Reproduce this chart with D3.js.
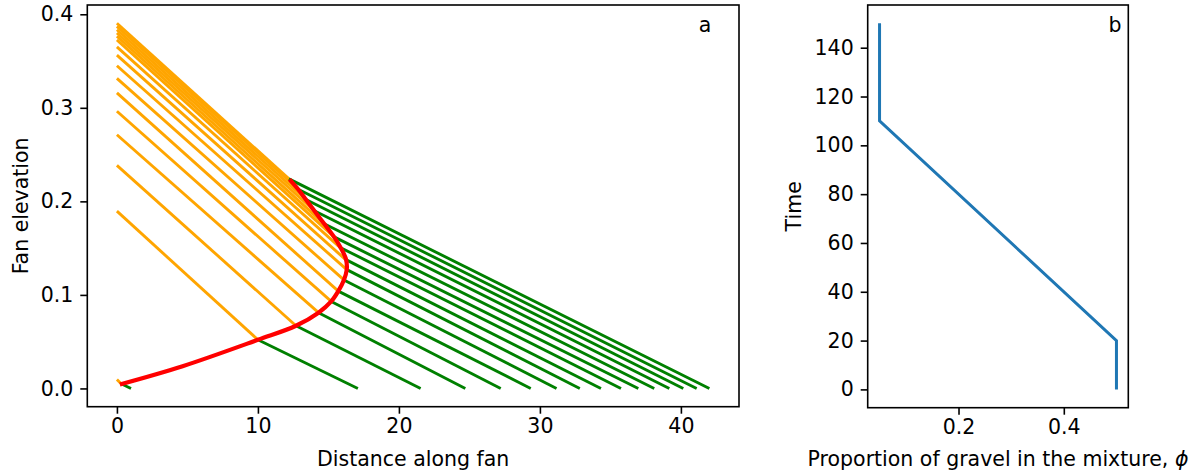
<!DOCTYPE html>
<html>
<head>
<meta charset="utf-8">
<script src="https://cdn.jsdelivr.net/npm/d3@7"></script>
<style>
  html, body { margin: 0; padding: 0; background: #fff; }
  svg { display: block; }
  text { font-family: "DejaVu Sans", sans-serif; fill: #000; }
</style>
</head>
<body>
<svg id="chart" width="1199" height="474"></svg>
<script>
// ---------------- Data (panel a) ----------------
// One profile every 10 time units (t = 0 ... 150)
const apexElev  = [0.0095, 0.1895, 0.2385, 0.2712, 0.2963, 0.3159, 0.3315, 0.345, 0.3563, 0.3652, 0.3727, 0.3765, 0.380, 0.3835, 0.387, 0.3904];
const transX    = [0.3, 10.0, 12.7, 14.3, 15.2, 15.7, 16.1, 16.3, 16.2, 15.8, 15.4, 14.7, 14.0, 13.4, 12.85, 12.2];
const transElev = [0.005, 0.052, 0.067, 0.081, 0.093, 0.104, 0.116, 0.127, 0.138, 0.151, 0.162, 0.176, 0.19, 0.202, 0.213, 0.224];
const toeX      = [1.0, 17.09, 21.54, 24.71, 27.22, 29.35, 31.18, 32.83, 34.33, 35.75, 36.98, 38.11, 39.18, 40.17, 41.12, 42.02];
// gravel-sand transition trajectory (red)
const redX = [0.21, 4.66, 10.0, 12.7, 14.3, 15.2, 15.7, 16.1, 16.3, 16.25, 15.85, 15.4, 14.7, 14.0, 13.4, 12.85, 12.24];
const redY = [0.0043, 0.0238, 0.052, 0.067, 0.081, 0.093, 0.104, 0.116, 0.127, 0.138, 0.151, 0.162, 0.176, 0.19, 0.202, 0.213, 0.2236];
const xTicksA = [0, 10, 20, 30, 40];
const yTicksA = [0.0, 0.1, 0.2, 0.3, 0.4];

// ---------------- Data (panel b) ----------------
const phiVals  = [0.5, 0.5, 0.05, 0.05];
const timeVals = [0, 20, 110, 150];
const xTicksB = [0.2, 0.4];
const yTicksB = [0, 20, 40, 60, 80, 100, 120, 140];

// ---------------- Layout ----------------
const FS = 20.5;
const svg = d3.select("#chart");

function padDomain(lo, hi) { const m = (hi - lo) * 0.05; return [lo - m, hi + m]; }

const A = { left: 87.3, right: 739, top: 5, bottom: 406.7 };
const B = { left: 867.7, right: 1128.3, top: 5, bottom: 407.7 };

const xA = d3.scaleLinear().domain(padDomain(0, d3.max(toeX))).range([A.left, A.right]);
const yA = d3.scaleLinear().domain(padDomain(0, d3.max(apexElev))).range([A.bottom, A.top]);
const xB = d3.scaleLinear().domain(padDomain(d3.min(phiVals), d3.max(phiVals))).range([B.left, B.right]);
const yB = d3.scaleLinear().domain(padDomain(d3.min(timeVals), d3.max(timeVals))).range([B.bottom, B.top]);

function styleAxis(g) {
  g.select(".domain").remove();
  g.selectAll(".tick line").attr("stroke", "#000").attr("stroke-width", 1.6);
  g.selectAll(".tick text").attr("font-size", FS).attr("font-family", "DejaVu Sans").attr("fill", "#000");
}

const LW = 2.9;

// ---------- Panel a ----------
const gA = svg.append("g");
svg.append("clipPath").attr("id", "clipA").append("rect")
  .attr("x", A.left).attr("y", A.top).attr("width", A.right - A.left).attr("height", A.bottom - A.top);
const plotA = gA.append("g").attr("clip-path", "url(#clipA)");
const line = d3.line();

apexElev.forEach((h, i) => {
  plotA.append("path")
    .attr("d", line([[xA(0), yA(h)], [xA(transX[i]), yA(transElev[i])]]))
    .attr("fill", "none").attr("stroke", "orange").attr("stroke-width", LW).attr("stroke-linecap", "butt");
  plotA.append("path")
    .attr("d", line([[xA(transX[i]), yA(transElev[i])], [xA(toeX[i]), yA(0)]]))
    .attr("fill", "none").attr("stroke", "green").attr("stroke-width", LW).attr("stroke-linecap", "butt");
});

plotA.append("path")
  .attr("d", d3.line().curve(d3.curveCatmullRom.alpha(0.5))(redX.map((x, i) => [xA(x), yA(redY[i])])))
  .attr("fill", "none").attr("stroke", "red").attr("stroke-width", 4.2).attr("stroke-linecap", "butt");

gA.append("g").attr("transform", `translate(0,${A.bottom})`)
  .call(d3.axisBottom(xA).tickValues(xTicksA).tickFormat(d3.format("d")).tickSize(7).tickPadding(5))
  .call(styleAxis);
gA.append("g").attr("transform", `translate(${A.left},0)`)
  .call(d3.axisLeft(yA).tickValues(yTicksA).tickFormat(d3.format(".1f")).tickSize(7).tickPadding(7))
  .call(styleAxis);

gA.append("rect").attr("x", A.left).attr("y", A.top).attr("width", A.right - A.left).attr("height", A.bottom - A.top)
  .attr("fill", "none").attr("stroke", "#000").attr("stroke-width", 1.6);

gA.append("text").attr("x", (A.left + A.right) / 2).attr("y", 465.5).attr("text-anchor", "middle")
  .attr("font-size", FS).text("Distance along fan");
gA.append("text").attr("transform", `translate(28,${(A.top + A.bottom) / 2}) rotate(-90)`).attr("text-anchor", "middle")
  .attr("font-size", FS).text("Fan elevation");
gA.append("text").attr("x", 705).attr("y", 31.5).attr("text-anchor", "middle").attr("font-size", FS).text("a");

// ---------- Panel b ----------
const gB = svg.append("g");
gB.append("path")
  .attr("d", d3.line()(phiVals.map((p, i) => [xB(p), yB(timeVals[i])])))
  .attr("fill", "none").attr("stroke", "#1f77b4").attr("stroke-width", 3).attr("stroke-linecap", "butt");

gB.append("g").attr("transform", `translate(0,${B.bottom})`)
  .call(d3.axisBottom(xB).tickValues(xTicksB).tickFormat(d3.format(".1f")).tickSize(7).tickPadding(5))
  .call(styleAxis);
gB.append("g").attr("transform", `translate(${B.left},0)`)
  .call(d3.axisLeft(yB).tickValues(yTicksB).tickFormat(d3.format("d")).tickSize(7).tickPadding(7))
  .call(styleAxis);

gB.append("rect").attr("x", B.left).attr("y", B.top).attr("width", B.right - B.left).attr("height", B.bottom - B.top)
  .attr("fill", "none").attr("stroke", "#000").attr("stroke-width", 1.6);

const xl = gB.append("text").attr("x", (B.left + B.right) / 2).attr("y", 465.5).attr("text-anchor", "middle")
  .attr("font-size", FS);
xl.append("tspan").text("Proportion of gravel in the mixture, ");
xl.append("tspan").attr("font-style", "italic").text("ϕ");
gB.append("text").attr("transform", `translate(801,${(B.top + B.bottom) / 2}) rotate(-90)`).attr("text-anchor", "middle")
  .attr("font-size", FS).text("Time");
gB.append("text").attr("x", 1115).attr("y", 31.5).attr("text-anchor", "middle").attr("font-size", FS).text("b");
</script>
</body>
</html>
